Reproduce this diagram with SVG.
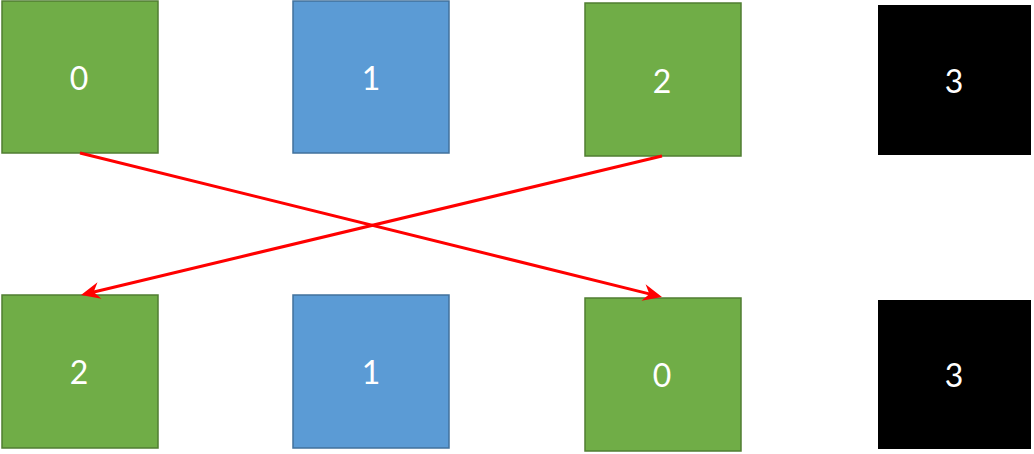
<svg xmlns="http://www.w3.org/2000/svg" width="1034" height="454" viewBox="0 0 1034 454">
<style>
.g{fill:#70AD47;stroke:#507E32;stroke-width:1.5}
.b{fill:#5B9BD5;stroke:#41719C;stroke-width:1.5}
.k{fill:#000}
.t{fill:#fff;font-family:Lato,"Open Sans",sans-serif;font-size:32px;text-anchor:middle;dominant-baseline:central}
.e{stroke:#FF0000;stroke-width:3;fill:none}
</style>
<defs>
<marker id="ah" markerUnits="userSpaceOnUse" viewBox="-20 -10 22 20" markerWidth="22" markerHeight="20" refX="0" refY="0" orient="auto">
<path d="M0,0 L-19,-8.5 L-13,0 L-19,8.5 Z" fill="#FF0000"/>
</marker>
</defs>
<rect width="1034" height="454" fill="#fff"/>
<g id="top0"><rect class="g" x="2" y="1" width="156" height="152"/><text class="t" x="79" y="77">0</text></g>
<g id="top1"><rect class="b" x="293" y="1" width="156" height="152"/><text class="t" x="371" y="77">1</text></g>
<g id="top2"><rect class="g" x="585" y="3" width="156" height="153"/><text class="t" x="662" y="80">2</text></g>
<g id="top3"><rect class="k" x="878" y="5" width="153" height="150"/><text class="t" x="954" y="80">3</text></g>
<g id="bot2"><rect class="g" x="2" y="295" width="156" height="153"/><text class="t" x="79" y="371">2</text></g>
<g id="bot1"><rect class="b" x="293" y="295" width="156" height="153"/><text class="t" x="371" y="371">1</text></g>
<g id="bot0"><rect class="g" x="585" y="298" width="156" height="153"/><text class="t" x="662" y="374">0</text></g>
<g id="bot3"><rect class="k" x="878" y="300" width="153" height="149"/><text class="t" x="954" y="374">3</text></g>
<g id="connectors">
<path class="e" d="M80,153 L652.3,294.6"/>
<path d="M80,153 L662,297" stroke="none" fill="none" marker-end="url(#ah)"/>
<path class="e" d="M662,156 L90.7,292.7"/>
<path d="M662,156 L81,295" stroke="none" fill="none" marker-end="url(#ah)"/>
</g>
</svg>
